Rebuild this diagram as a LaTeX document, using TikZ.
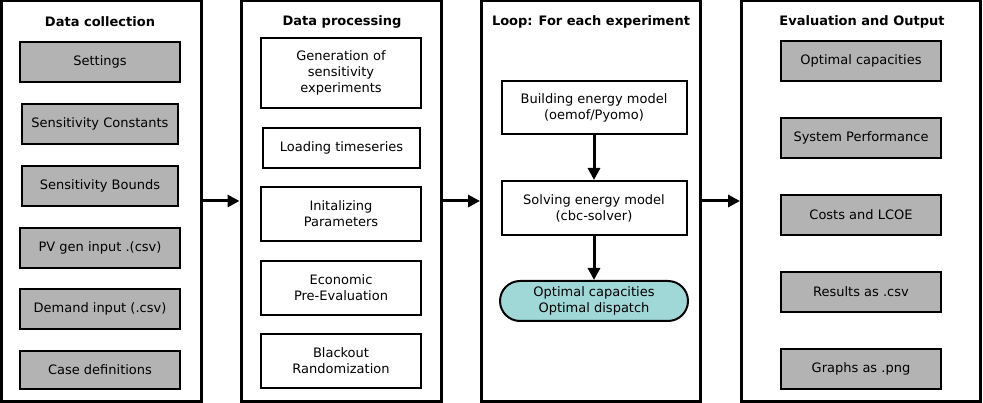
\documentclass[tikz,border=0pt]{standalone}
\usepackage{fontspec}
\setmainfont{DejaVu Sans}
\usetikzlibrary{arrows.meta}
\definecolor{boxgray}{RGB}{179,179,179}
\definecolor{teal1}{RGB}{160,215,215}
\begin{document}
\begin{tikzpicture}[x=1pt,y=-1pt,
  every node/.style={font=\fontsize{13}{16}\selectfont,align=center,inner sep=0pt},
  frame/.style={draw,line width=3pt,minimum height=400pt},
  ttl/.style={font=\fontsize{13}{16}\selectfont\bfseries},
  gbox/.style={draw,line width=2pt,fill=boxgray,minimum width=160pt,minimum height=40pt},
  wbox/.style={draw,line width=2pt,fill=white,minimum width=160pt},
  bigarrow/.style={line width=3pt,-{Triangle[length=12pt,width=12pt]}},
  smallarrow/.style={line width=3pt,-{Triangle[length=12pt,width=12pt]}}]
\useasboundingbox (0,0) rectangle (983,403);
% frames
\node[frame,minimum width=200pt] (f1) at (101,201) {};
\node[frame,minimum width=200pt] (f2) at (341,201) {};
\node[frame,minimum width=219pt] (f3) at (591,201) {};
\node[frame,minimum width=239pt] (f4) at (861,201) {};
% titles
\node[ttl] (t1) at (100,22) {Data collection};
\node[ttl] (t2) at (342,22) {Data processing};
\node[ttl] (t3) at (591,22) {Loop: For each experiment};
\node[ttl] (t4) at (862,22) {Evaluation and Output};
% column 1
\node[gbox] (c1a) at (100,62) {Settings};
\node[gbox,minimum width=156pt] (c1b) at (100,124) {Sensitivity Constants};
\node[gbox,minimum width=156pt] (c1c) at (100,186) {Sensitivity Bounds};
\node[gbox] (c1d) at (100,248) {PV gen input .(csv)};
\node[gbox] (c1e) at (100,309) {Demand input (.csv)};
\node[gbox,minimum height=38pt] (c1f) at (100,370) {Case definitions};
% column 2
\node[wbox,minimum height=70pt] (c2a) at (341,73) {Generation of\\sensitivity\\experiments};
\node[wbox,minimum width=157pt,minimum height=40pt] (c2b) at (341.5,148) {Loading timeseries};
\node[wbox,minimum height=54pt] (c2c) at (341,214) {Initalizing\\Parameters};
\node[wbox,minimum height=54pt] (c2d) at (341,288) {Economic\\Pre-Evaluation};
\node[wbox,minimum height=54pt] (c2e) at (341,361) {Blackout\\Randomization};
% column 3
\node[wbox,minimum width=185pt,minimum height=53pt] (c3a) at (594,108) {Building energy model\\(oemof/Pyomo)};
\node[wbox,minimum width=185pt,minimum height=54pt] (c3b) at (594,208) {Solving energy model\\(cbc-solver)};
\node[draw,line width=2pt,fill=teal1,minimum width=188pt,minimum height=40pt,rounded corners=20pt] (c3c) at (594,301) {Optimal capacities\\Optimal dispatch};
% column 4
\node[gbox] (c4a) at (861,61) {Optimal capacities};
\node[gbox] (c4b) at (861,138) {System Performance};
\node[gbox] (c4c) at (861,215) {Costs and LCOE};
\node[gbox] (c4d) at (861,292) {Results as .csv};
\node[gbox] (c4e) at (861,369) {Graphs as .png};
% arrows
\draw[bigarrow] (f1.east |- 0,201) -- (f2.west |- 0,201);
\draw[bigarrow] (f2.east |- 0,201) -- (f3.west |- 0,201);
\draw[bigarrow] (f3.east |- 0,201) -- (f4.west |- 0,201);
\draw[smallarrow] (c3a) -- (c3b);
\draw[smallarrow] (c3b) -- (c3c);
\end{tikzpicture}
\end{document}
